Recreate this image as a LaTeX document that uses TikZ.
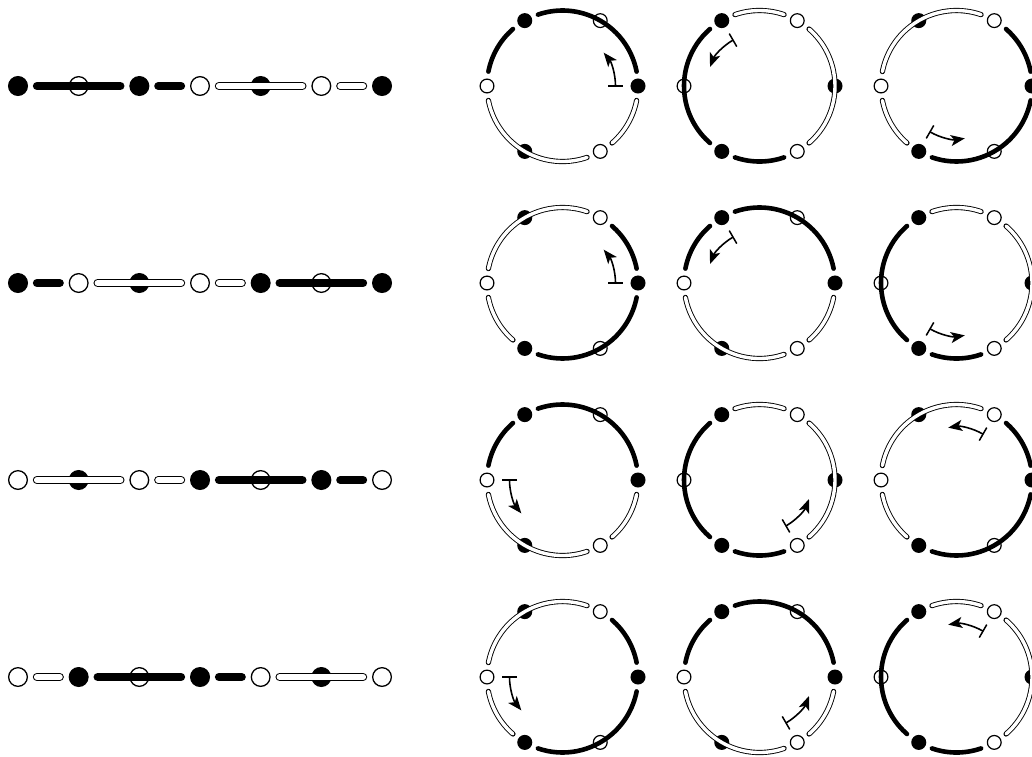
\documentclass[tikz,border=0pt]{standalone}
\usetikzlibrary{arrows.meta}
\tikzset{
  lnF/.style={circle,draw=black,fill=black,line width=1.3pt,minimum size=18.7pt,inner sep=0pt},
  lnH/.style={lnF,fill=white},
  cnF/.style={circle,draw=black,fill=black,line width=1.2pt,minimum size=13.8pt,inner sep=0pt},
  cnH/.style={cnF,fill=white},
  lbarB/.style={line width=8.3pt,line cap=round,shorten <=19pt,shorten >=19pt},
  lbarW/.style={draw=black,line width=1.1pt,double=white,double distance=6.2pt,line cap=round,shorten <=19pt,shorten >=19pt},
  abarB/.style={line width=4.6pt,line cap=round},
  abarW/.style={draw=black,line width=0.9pt,double=white,double distance=3.4pt,line cap=round},
  turnarrow/.style={line width=1.6pt,-{Stealth[length=14pt,width=11pt,inset=3.5pt]}},
  tickbar/.style={line width=1.5pt}
}
\newcommand\mycirc[7]{% #1 row, #2 col, #3 cx, #4 cy, #5 start, #6 ev, #7 arcs
  \coordinate (O#1-#2) at (#3,-#4);
  \foreach \k in {0,...,5}{
    \pgfmathsetmacro\ang{#5+60*\k}
    \pgfmathtruncatemacro\isf{mod(\k+#6,2)}
    \ifnum\isf=1
      \node[cnF] (C#1-#2-\k) at ([shift={(\ang:75.5pt)}]O#1-#2) {};
    \else
      \node[cnH] (C#1-#2-\k) at ([shift={(\ang:75.5pt)}]O#1-#2) {};
    \fi
  }
  \foreach \a/\b/\t in {#7}{
    \pgfmathsetmacro\aa{#5+60*\a+11}
    \pgfmathsetmacro\bb{#5+60*\b-11}
    \ifnum\t=1
      \draw[abarB] ([shift={(\aa:75.5pt)}]O#1-#2) arc[start angle=\aa,end angle=\bb,radius=75.5pt];
    \else
      \draw[abarW] ([shift={(\aa:75.5pt)}]O#1-#2) arc[start angle=\aa,end angle=\bb,radius=75.5pt];
    \fi
  }
  \pgfmathsetmacro\ee{#5+39}
  \draw[tickbar] ([shift={(#5:45.5pt)}]O#1-#2) -- ([shift={(#5:60.5pt)}]O#1-#2);
  \draw[turnarrow] ([shift={(#5:53pt)}]O#1-#2) arc[start angle=#5,end angle=\ee,radius=53pt];
}
\newcommand\myrow[7]{% #1 row, #2 y, #3 ev, #4 arcs, #5 #6 #7 starts
  \foreach \k in {0,...,6}{
    \pgfmathtruncatemacro\isf{mod(\k+#3,2)}
    \ifnum\isf=1
      \node[lnF] (L#1-\k) at ({18+60.67*\k},-#2) {};
    \else
      \node[lnH] (L#1-\k) at ({18+60.67*\k},-#2) {};
    \fi
  }
  \foreach \a/\b/\t in {#4}{
    \ifnum\t=1
      \draw[lbarB] (L#1-\a.center) -- (L#1-\b.center);
    \else
      \draw[lbarW] (L#1-\a.center) -- (L#1-\b.center);
    \fi
  }
  \mycirc{#1}{1}{562.5}{#2}{#5}{#3}{#4}
  \mycirc{#1}{2}{759.5}{#2}{#6}{#3}{#4}
  \mycirc{#1}{3}{956.5}{#2}{#7}{#3}{#4}
}
\begin{document}
\begin{tikzpicture}[x=1pt,y=1pt]
\useasboundingbox (0,0) rectangle (1032,-756);
\myrow{1}{86}{1}{0/2/1,2/3/1,3/5/0,5/6/0}{0}{120}{240}
\myrow{2}{283}{1}{0/1/1,1/3/0,3/4/0,4/6/1}{0}{120}{240}
\myrow{3}{480}{0}{0/2/0,2/3/0,3/5/1,5/6/1}{180}{300}{60}
\myrow{4}{677}{0}{0/1/0,1/3/1,3/4/1,4/6/0}{180}{300}{60}
\end{tikzpicture}
\end{document}
